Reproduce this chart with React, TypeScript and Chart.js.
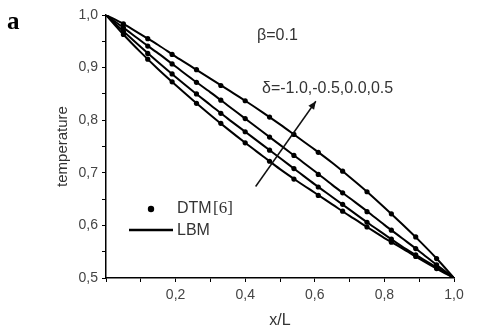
import React, { useEffect, useRef } from "react";
import { Chart, registerables } from "chart.js";

Chart.register(...registerables);

// LBM solution lines (x/L, temperature)
const xLBM = [0, 0.05, 0.1, 0.15, 0.2, 0.25, 0.3, 0.35, 0.4, 0.45, 0.5, 0.55, 0.6, 0.65, 0.7, 0.75, 0.8, 0.85, 0.9, 0.95, 1.0];
const lbmDeltaP05 = [1.0, 0.983, 0.963, 0.943, 0.921, 0.9, 0.879, 0.858, 0.837, 0.815, 0.792, 0.768, 0.744, 0.719, 0.692, 0.664, 0.634, 0.603, 0.571, 0.537, 0.5];
const lbmDelta00 = [1.0, 0.976, 0.951, 0.927, 0.902, 0.877, 0.853, 0.828, 0.803, 0.778, 0.753, 0.728, 0.703, 0.677, 0.652, 0.627, 0.601, 0.576, 0.551, 0.525, 0.5];
const lbmDeltaM05 = [1.0, 0.969, 0.939, 0.91, 0.882, 0.855, 0.829, 0.803, 0.778, 0.753, 0.728, 0.703, 0.678, 0.654, 0.63, 0.606, 0.583, 0.56, 0.54, 0.52, 0.5];
const lbmDeltaM10 = [1.0, 0.963, 0.929, 0.897, 0.867, 0.838, 0.81, 0.783, 0.757, 0.732, 0.707, 0.684, 0.662, 0.64, 0.618, 0.597, 0.576, 0.557, 0.537, 0.518, 0.5];

// DTM [6] points
const xDTM = [0.05, 0.12, 0.19, 0.26, 0.33, 0.4, 0.47, 0.54, 0.61, 0.68, 0.75, 0.82, 0.89, 0.95];
const dtmDeltaP05 = [0.983, 0.955, 0.925, 0.896, 0.866, 0.837, 0.806, 0.773, 0.739, 0.703, 0.664, 0.622, 0.578, 0.537];
const dtmDelta00 = [0.976, 0.941, 0.907, 0.872, 0.838, 0.803, 0.768, 0.733, 0.697, 0.662, 0.626, 0.591, 0.556, 0.525];
const dtmDeltaM05 = [0.969, 0.927, 0.888, 0.85, 0.813, 0.778, 0.743, 0.708, 0.673, 0.64, 0.606, 0.574, 0.544, 0.52];
const dtmDeltaM10 = [0.963, 0.916, 0.873, 0.832, 0.794, 0.757, 0.722, 0.688, 0.657, 0.627, 0.597, 0.568, 0.541, 0.518];

const xTickLabels = ["0,2", "0,4", "0,6", "0,8", "1,0"];
const yTickLabels = ["0,5", "0,6", "0,7", "0,8", "0,9", "1,0"];

// annotation arrow (data coordinates)
const arrowFrom = { x: 0.43, y: 0.674 };
const arrowTo = { x: 0.603, y: 0.836 };

const FONT = "'Liberation Sans', Arial, sans-serif";

const pts = (xs: number[], ys: number[]) => xs.map((x, i) => ({ x, y: ys[i] }));

const overlay = {
  id: "overlay",
  afterDraw(chart: any) {
    const ctx = chart.ctx;
    const xs = chart.scales.x;
    const ys = chart.scales.y;
    ctx.save();
    // panel letter
    ctx.fillStyle = "#000";
    ctx.font = "bold 25px 'Liberation Serif', 'Times New Roman', serif";
    ctx.textBaseline = "middle";
    ctx.textAlign = "left";
    ctx.fillText("a", 7, 23);

    ctx.fillStyle = "#333";
    ctx.font = "16px " + FONT;
    ctx.fillText("β=0.1", 257, 36);
    ctx.fillText("δ=-1.0,-0.5,0.0,0.5", 262, 89);

    // arrow
    const x1 = xs.getPixelForValue(arrowFrom.x);
    const y1 = ys.getPixelForValue(arrowFrom.y);
    const x2 = xs.getPixelForValue(arrowTo.x);
    const y2 = ys.getPixelForValue(arrowTo.y);
    ctx.strokeStyle = "#111";
    ctx.fillStyle = "#111";
    ctx.lineWidth = 1.5;
    ctx.beginPath();
    ctx.moveTo(x1, y1);
    ctx.lineTo(x2, y2);
    ctx.stroke();
    const ang = Math.atan2(y2 - y1, x2 - x1);
    const hl = 8;
    const hw = 3.5;
    ctx.beginPath();
    ctx.moveTo(x2, y2);
    ctx.lineTo(x2 - hl * Math.cos(ang) + hw * Math.sin(ang), y2 - hl * Math.sin(ang) - hw * Math.cos(ang));
    ctx.lineTo(x2 - hl * Math.cos(ang) - hw * Math.sin(ang), y2 - hl * Math.sin(ang) + hw * Math.cos(ang));
    ctx.closePath();
    ctx.fill();

    // legend
    ctx.fillStyle = "#000";
    ctx.beginPath();
    ctx.arc(151, 209, 3.2, 0, Math.PI * 2);
    ctx.fill();
    ctx.strokeStyle = "#000";
    ctx.lineWidth = 2.5;
    ctx.beginPath();
    ctx.moveTo(129, 230);
    ctx.lineTo(173, 230);
    ctx.stroke();
    ctx.fillStyle = "#333";
    ctx.font = "16px " + FONT;
    ctx.fillText("DTM", 177, 209);
    ctx.fillText("LBM", 177, 231);
    ctx.font = "17px 'Liberation Serif', 'Times New Roman', serif";
    ctx.fillText("[6]", 213, 209);
    ctx.restore();
  },
};

export default function App() {
  const ref = useRef<HTMLCanvasElement | null>(null);
  useEffect(() => {
    if (!ref.current) return;
    const lineDs = (ys: number[]) => ({
      type: "line" as const,
      data: pts(xLBM, ys),
      borderColor: "#000",
      borderWidth: 2,
      pointRadius: 0,
      cubicInterpolationMode: "monotone" as const,
      fill: false,
    });
    const dotDs = (ys: number[]) => ({
      type: "scatter" as const,
      data: pts(xDTM, ys),
      backgroundColor: "#000",
      borderColor: "#000",
      pointRadius: 2.6,
      borderWidth: 0,
      showLine: false,
    });
    const chart = new Chart(ref.current, {
      type: "line",
      data: {
        datasets: [
          dotDs(dtmDeltaP05),
          dotDs(dtmDelta00),
          dotDs(dtmDeltaM05),
          dotDs(dtmDeltaM10),
          lineDs(lbmDeltaP05),
          lineDs(lbmDelta00),
          lineDs(lbmDeltaM05),
          lineDs(lbmDeltaM10),
        ] as any,
      },
      options: {
        animation: false,
        responsive: false,
        devicePixelRatio: 1,
        layout: { padding: { left: 0, right: 26, top: 15, bottom: 0 } },
        plugins: { legend: { display: false }, tooltip: { enabled: false } },
        scales: {
          x: {
            type: "linear",
            min: 0,
            max: 1,
            afterFit: (s: any) => {
              s.height = 52;
            },
            border: { display: true, color: "#000", width: 1.5 },
            grid: { drawOnChartArea: false, drawTicks: true, tickLength: 4, tickColor: "#000", tickWidth: 1 },
            ticks: {
              stepSize: 0.1,
              autoSkip: false,
              maxRotation: 0,
              padding: 5,
              color: "#444",
              font: { family: FONT, size: 14 },
              callback: (v: any) => {
                const n = Math.round(Number(v) * 5);
                if (Math.abs(Number(v) * 5 - n) < 1e-6 && n > 0) return xTickLabels[n - 1];
                return "";
              },
            },
            title: {
              display: true,
              text: "x/L",
              color: "#333",
              font: { family: FONT, size: 16, lineHeight: 1.2 },
              padding: { top: 0, bottom: 0 },
            },
          },
          y: {
            type: "linear",
            min: 0.5,
            max: 1.0,
            afterFit: (s: any) => {
              s.width = 106;
            },
            border: { display: true, color: "#000", width: 1.5 },
            grid: { drawOnChartArea: false, drawTicks: true, tickLength: 4, tickColor: "#000", tickWidth: 1 },
            ticks: {
              stepSize: 0.05,
              autoSkip: false,
              padding: 4,
              color: "#444",
              font: { family: FONT, size: 14 },
              callback: (v: any) => {
                const k = Math.round((Number(v) - 0.5) * 10);
                if (Math.abs((Number(v) - 0.5) * 10 - k) < 1e-6) return yTickLabels[k];
                return "";
              },
            },
            title: {
              display: true,
              text: "temperature",
              color: "#333",
              font: { family: FONT, size: 15, lineHeight: 1.2 },
              padding: { top: 54, bottom: 0 },
            },
          },
        },
      },
      plugins: [overlay],
    });
    return () => chart.destroy();
  }, []);
  return (
    <div style={{ position: "absolute", left: 0, top: 0, width: 480, height: 330, background: "#fff" }}>
      <canvas ref={ref} width={480} height={330} style={{ display: "block" }} />
    </div>
  );
}
